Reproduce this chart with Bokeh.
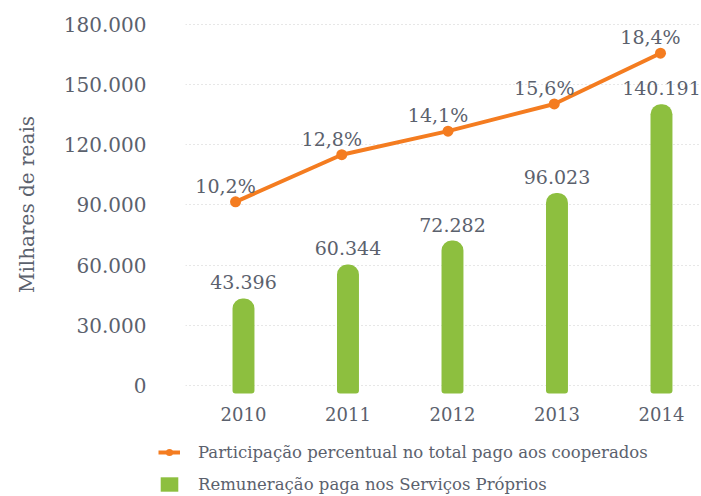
from bokeh.plotting import figure
from bokeh.layouts import column, row
from bokeh.models import ColumnDataSource, Range1d, FixedTicker, Legend, LegendItem
from bokeh.core.properties import value
from bokeh.embed import file_html
from bokeh.resources import INLINE

years = [2010, 2011, 2012, 2013, 2014]
remuneracao = [43396, 60344, 72282, 96023, 140191]
remuneracao_labels = ["43.396", "60.344", "72.282", "96.023", "140.191"]
participacao = [10.2, 12.8, 14.1, 15.6, 18.4]
participacao_labels = ["10,2%", "12,8%", "14,1%", "15,6%", "18,4%"]
y_ticks = [0, 30000, 60000, 90000, 120000, 150000, 180000]
y_tick_labels = ["0", "30.000", "60.000", "90.000", "120.000", "150.000", "180.000"]
x_ticks = years
x_tick_labels = ["2010", "2011", "2012", "2013", "2014"]
legend_labels = ["Participação percentual no total pago aos cooperados",
                 "Remuneração paga nos Serviços Próprios"]

FONT = "DejaVu Serif"
TXT = "#5b616d"
GREEN = "#8dbf3f"
ORANGE = "#f47c20"

p = figure(width=701, height=430, output_backend="svg", toolbar_location=None,
           x_range=Range1d(2009.445, 2014.383), y_range=Range1d(-5485, 185983),
           min_border_left=185, min_border_right=0, min_border_top=12, min_border_bottom=34)
p.extra_x_ranges = {"px": Range1d(2009.529, 2014.386)}
p.extra_y_ranges = {"pct": Range1d(-0.535, 20.645)}
p.outline_line_color = None

bars_src = ColumnDataSource(dict(x=years, top=remuneracao, lab=remuneracao_labels))
line_src = ColumnDataSource(dict(x=years, y=participacao, lab=participacao_labels))

p.vbar(x="x", top="top", bottom=-4000, width=0.21, source=bars_src,
       fill_color=GREEN, line_color=None, border_radius=(10, 10, 3, 3))
p.text(x="x", y="top", text="lab", source=bars_src, text_align="center",
       text_baseline="middle", y_offset=-16, text_font=value(FONT),
       text_font_size="19px", text_color=TXT)

p.line(x="x", y="y", source=line_src, x_range_name="px", y_range_name="pct",
       line_color=ORANGE, line_width=4)
p.scatter(x="x", y="y", source=line_src, x_range_name="px", y_range_name="pct",
          size=11, fill_color=ORANGE, line_color=None)
p.text(x="x", y="y", text="lab", source=line_src, x_range_name="px", y_range_name="pct",
       text_align="center", text_baseline="middle", x_offset=-10, y_offset=-16,
       text_font=value(FONT), text_font_size="19px", text_color=TXT)

# axes
p.xaxis.ticker = FixedTicker(ticks=x_ticks)
p.xaxis.major_label_overrides = {t: l for t, l in zip(x_ticks, x_tick_labels)}
p.yaxis.ticker = FixedTicker(ticks=y_ticks)
p.yaxis.major_label_overrides = {t: l for t, l in zip(y_ticks, y_tick_labels)}
for ax in (p.xaxis[0], p.yaxis[0]):
    ax.axis_line_color = None
    ax.major_tick_line_color = None
    ax.minor_tick_line_color = None
    ax.major_label_text_font = FONT
    ax.major_label_text_color = TXT
p.xaxis.major_label_text_font_size = "18px"
p.xaxis.major_label_standoff = 4
p.yaxis.major_label_text_font_size = "20px"
p.yaxis.major_label_standoff = 33
p.yaxis.axis_label = "Milhares de reais"
p.yaxis.axis_label_text_font = FONT
p.yaxis.axis_label_text_font_style = "normal"
p.yaxis.axis_label_text_font_size = "20px"
p.yaxis.axis_label_text_color = TXT
p.yaxis.axis_label_standoff = 22

p.xgrid.grid_line_color = None
p.ygrid.grid_line_color = "#cfcfcf"
p.ygrid.grid_line_dash = "1 3"
p.ygrid.grid_line_width = 1

# legend panel (its ranges keep the sample renderers out of view)
lg = figure(width=701, height=66, output_backend="svg", toolbar_location=None,
            x_range=Range1d(0, 1), y_range=Range1d(0, 1),
            min_border_left=158, min_border_right=0, min_border_top=12, min_border_bottom=0)
lg.xaxis.visible = False
lg.yaxis.visible = False
lg.xgrid.visible = False
lg.ygrid.visible = False
lg.outline_line_color = None
l_line = lg.line(x="x", y="y", source=line_src, line_color=ORANGE, line_width=4)
l_pts = lg.scatter(x="x", y="y", source=line_src, size=11, fill_color=ORANGE, line_color=None)
l_bar = lg.vbar(x="x", top="top", width=0.1, source=bars_src, fill_color=GREEN,
                line_color=None, border_radius=(6, 6, 1, 1))

legend = Legend(items=[
    LegendItem(label=legend_labels[0], renderers=[l_line, l_pts]),
    LegendItem(label=legend_labels[1], renderers=[l_bar]),
], location="top_left", orientation="vertical")
legend.label_text_font = FONT
legend.label_text_font_size = "16.5px"
legend.label_text_color = TXT
legend.glyph_width = 22
legend.glyph_height = 18
legend.label_height = 20
legend.label_standoff = 18
legend.spacing = 12
legend.padding = 0
legend.margin = 0
legend.border_line_color = None
legend.background_fill_alpha = 0
lg.add_layout(legend)

layout = column(p, row(lg), spacing=0)
open("out.html", "w").write(file_html(layout, INLINE))
